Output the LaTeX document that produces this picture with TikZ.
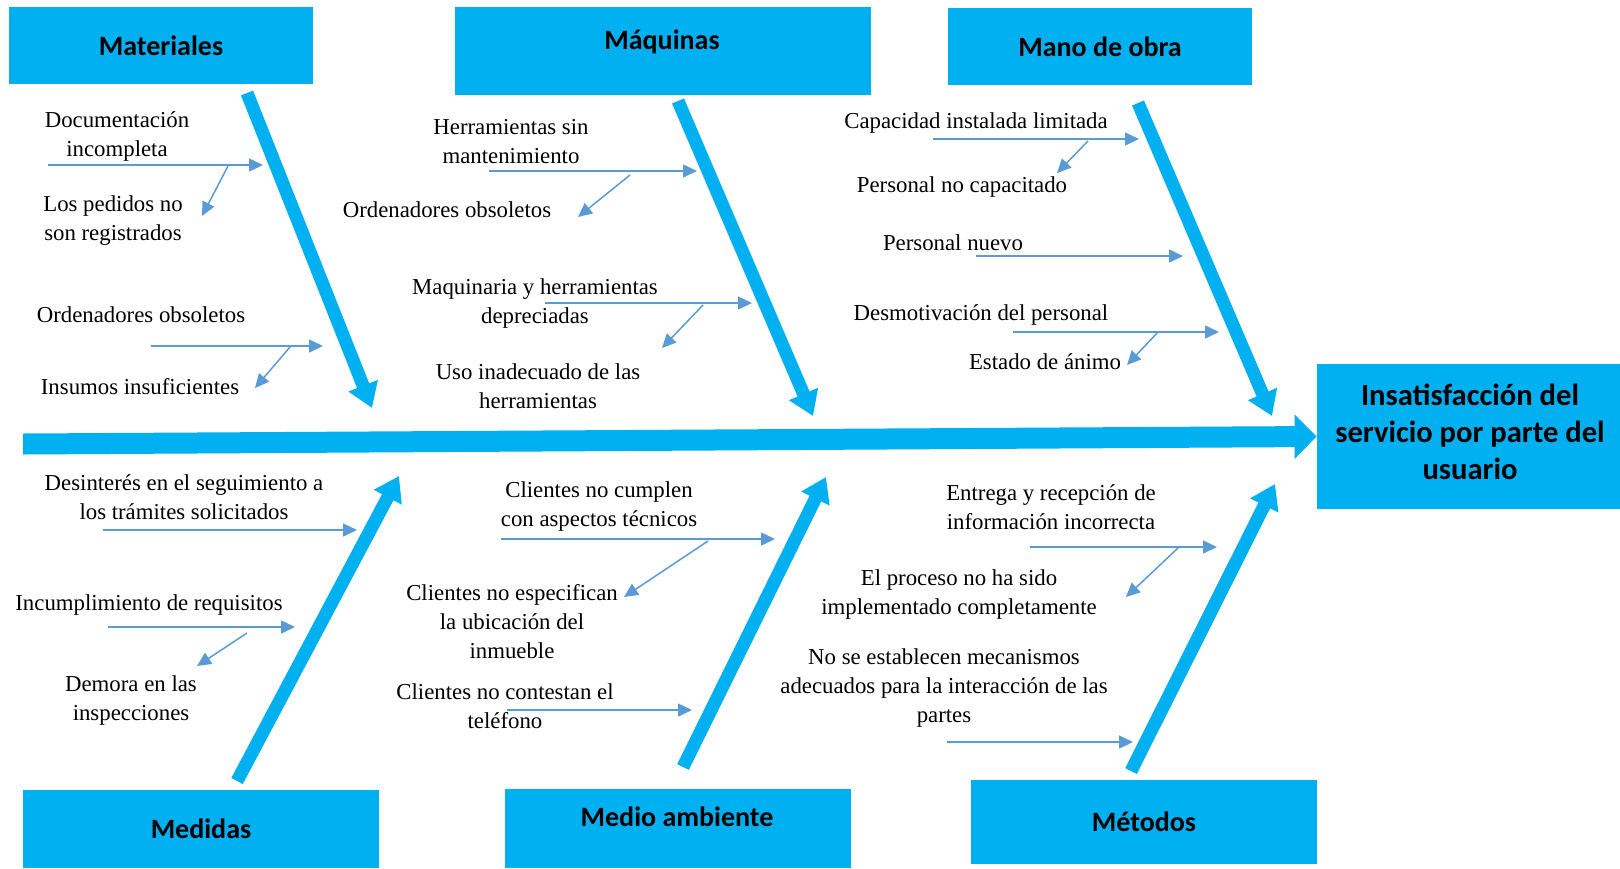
\documentclass[tikz,border=0pt]{standalone}
\usepackage{fontspec}
\setmainfont{Liberation Serif}
\newfontfamily\headfont{Carlito}
\usetikzlibrary{arrows.meta}

\definecolor{fishblue}{RGB}{0,176,240}
\definecolor{causeblue}{RGB}{91,155,213}

\begin{document}
\begin{tikzpicture}[
  x=0.5pt, y=-0.5pt,
  every node/.style={align=center},
  head/.style={fill=fishblue, inner sep=0pt},
  headtxt/.style={font=\headfont\bfseries\fontsize{14}{17}\selectfont},
  cause/.style={font=\fontsize{11.4}{14.5}\selectfont, inner sep=0pt},
  bone/.style={draw=fishblue, line width=6.5pt, -{Triangle[length=12pt, width=15pt]}},
  spine/.style={draw=fishblue, line width=10.5pt, -{Triangle[length=11pt, width=21.5pt]}},
  arr/.style={draw=causeblue, line width=0.75pt, -{Triangle[length=7pt, width=6.5pt]}},
]
\useasboundingbox (0,0) rectangle (1620,868);

% spine and effect
\coordinate (tail) at (23,444);
\node [head, minimum width=151.5pt, minimum height=72.5pt] (effect) at (1468.5,436.5) {};
\node [font=\headfont\bfseries\fontsize{15.3}{18.5}\selectfont] (effect_txt) at (1470,432)
       {Insatisfacción del\\servicio por parte del\\usuario};
\draw [spine] (tail) -- (effect.west);

% Materiales
\node [head, headtxt, minimum width=152pt, minimum height=38.5pt] (mat) at (161,45.5) {Materiales};
\coordinate (mat_top) at (247,93);
\coordinate (mat_tip) at (372,408);
\draw [bone] (mat_top) -- (mat_tip);

\node [cause] (doc) at (117,136) {Documentación\\incompleta};
\coordinate (doc_s) at (48,165);
\coordinate (doc_e) at (263,165);
\draw [arr] (doc_s) -- (doc_e);
\node [cause] (ped) at (113,221) {Los pedidos no\\son registrados};
\coordinate (ped_s) at (228,166);
\coordinate (ped_e) at (202,216);
\draw [arr] (ped_s) -- (ped_e);

\node [cause] (ord1) at (141,315) {Ordenadores obsoletos};
\coordinate (ord1_s) at (151,346);
\coordinate (ord1_e) at (323,346);
\draw [arr] (ord1_s) -- (ord1_e);
\node [cause] (ins) at (140,387) {Insumos insuficientes};
\coordinate (ins_s) at (290,347);
\coordinate (ins_e) at (255,388);
\draw [arr] (ins_s) -- (ins_e);

% Maquinas
\node [head, minimum width=208pt, minimum height=44pt] (maq) at (663,51) {};
\node [headtxt] (maq_txt) at (662,42) {Máquinas};
\coordinate (maq_top) at (678,101);
\coordinate (maq_tip) at (813,416);
\draw [bone] (maq_top) -- (maq_tip);

\node [cause] (her) at (511,142) {Herramientas sin\\mantenimiento};
\coordinate (her_s) at (489,171);
\coordinate (her_e) at (697,171);
\draw [arr] (her_s) -- (her_e);
\node [cause] (ord2) at (447,210) {Ordenadores obsoletos};
\coordinate (ord2_s) at (630,175);
\coordinate (ord2_e) at (578,217);
\draw [arr] (ord2_s) -- (ord2_e);

\node [cause] (dep) at (535,304) {Maquinaria y herramientas\\depreciadas};
\coordinate (dep_s) at (545,303);
\coordinate (dep_e) at (752,303);
\draw [arr] (dep_s) -- (dep_e);
\node [cause] (uso) at (538,386) {Uso inadecuado de las\\herramientas};
\coordinate (uso_s) at (703,305);
\coordinate (uso_e) at (662,348);
\draw [arr] (uso_s) -- (uso_e);

% Mano de obra
\node [head, headtxt, minimum width=152pt, minimum height=38.5pt] (mano) at (1100,46.5) {Mano de obra};
\coordinate (mano_top) at (1138,103);
\coordinate (mano_tip) at (1272,416);
\draw [bone] (mano_top) -- (mano_tip);

\node [cause] (cap) at (976,123) {Capacidad instalada limitada};
\coordinate (cap_s) at (933,139);
\coordinate (cap_e) at (1139,139);
\draw [arr] (cap_s) -- (cap_e);
\node [cause] (pnc) at (962,187) {Personal no capacitado};
\coordinate (pnc_s) at (1088,141);
\coordinate (pnc_e) at (1057,173);
\draw [arr] (pnc_s) -- (pnc_e);

\node [cause] (pnu) at (953,243) {Personal nuevo};
\coordinate (pnu_s) at (976,256);
\coordinate (pnu_e) at (1183,256);
\draw [arr] (pnu_s) -- (pnu_e);

\node [cause] (des) at (981,315) {Desmotivación del personal};
\coordinate (des_s) at (1013,332);
\coordinate (des_e) at (1219,332);
\draw [arr] (des_s) -- (des_e);
\node [cause] (est) at (1045,362) {Estado de ánimo};
\coordinate (est_s) at (1158,332);
\coordinate (est_e) at (1127,365);
\draw [arr] (est_s) -- (est_e);

% Medidas
\node [head, headtxt, minimum width=178pt, minimum height=39pt] (med) at (201,829) {Medidas};
\coordinate (med_bot) at (237,781);
\coordinate (med_tip) at (399,476);
\draw [bone] (med_bot) -- (med_tip);

\node [cause] (dsi) at (184,497) {Desinterés en el seguimiento a\\los trámites solicitados};
\coordinate (dsi_s) at (103,530);
\coordinate (dsi_e) at (357,530);
\draw [arr] (dsi_s) -- (dsi_e);

\node [cause] (inc) at (149,605) {Incumplimiento de requisitos};
\coordinate (inc_s) at (108,627);
\coordinate (inc_e) at (295,627);
\draw [arr] (inc_s) -- (inc_e);
\node [cause] (dem) at (131,701) {Demora en las\\inspecciones};
\coordinate (dem_s) at (247,633);
\coordinate (dem_e) at (197,666);
\draw [arr] (dem_s) -- (dem_e);

% Medio ambiente
\node [head, minimum width=173pt, minimum height=39.5pt] (amb) at (678,828.5) {};
\node [headtxt] (amb_txt) at (677,817) {Medio ambiente};
\coordinate (amb_bot) at (683,767);
\coordinate (amb_tip) at (826,477);
\draw [bone] (amb_bot) -- (amb_tip);

\node [cause] (ccu) at (599,507) {Clientes no cumplen\\con aspectos técnicos};
\coordinate (ccu_s) at (501,539);
\coordinate (ccu_e) at (775,539);
\draw [arr] (ccu_s) -- (ccu_e);
\node [cause] (cesp) at (512,622) {Clientes no especifican\\la ubicación del\\inmueble};
\coordinate (cesp_s) at (708,541);
\coordinate (cesp_e) at (624,597);
\draw [arr] (cesp_s) -- (cesp_e);

\node [cause] (cco) at (505,706) {Clientes no contestan el\\teléfono};
\coordinate (cco_s) at (507,710);
\coordinate (cco_e) at (692,710);
\draw [arr] (cco_s) -- (cco_e);

% Metodos
\node [head, headtxt, minimum width=173pt, minimum height=42pt] (met) at (1144,822) {Métodos};
\coordinate (met_bot) at (1131,771);
\coordinate (met_tip) at (1275,484);
\draw [bone] (met_bot) -- (met_tip);

\node [cause] (ent) at (1051,507) {Entrega y recepción de\\información incorrecta};
\coordinate (ent_s) at (1030,547);
\coordinate (ent_e) at (1217,547);
\draw [arr] (ent_s) -- (ent_e);
\node [cause] (pro) at (959,595) {El proceso no ha sido\\implementado completamente};
\coordinate (pro_s) at (1178,548);
\coordinate (pro_e) at (1126,597);
\draw [arr] (pro_s) -- (pro_e);

\node [cause] (mec) at (944,688) {No se establecen mecanismos\\adecuados para la interacción de las\\partes};
\coordinate (mec_s) at (947,742);
\coordinate (mec_e) at (1133,742);
\draw [arr] (mec_s) -- (mec_e);

\end{tikzpicture}
\end{document}
